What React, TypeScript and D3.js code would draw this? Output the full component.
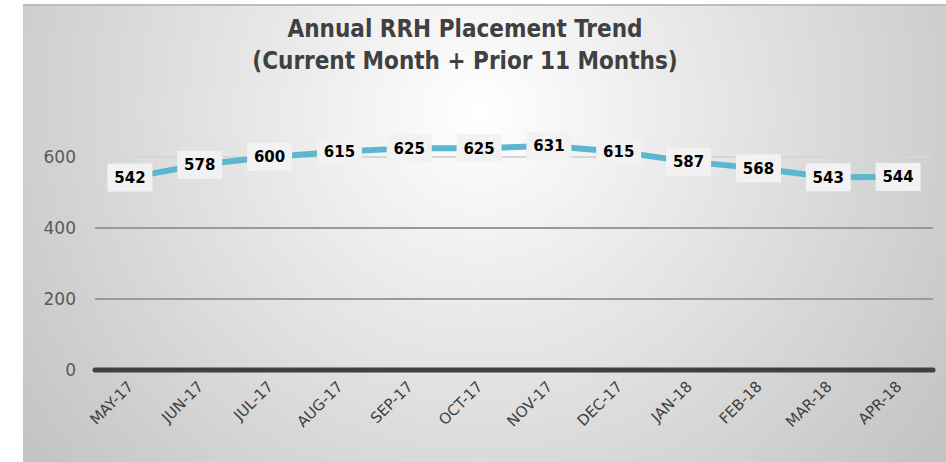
import React, { useEffect, useRef } from 'react';
import * as d3 from 'd3';

const months = ['MAY-17', 'JUN-17', 'JUL-17', 'AUG-17', 'SEP-17', 'OCT-17', 'NOV-17', 'DEC-17', 'JAN-18', 'FEB-18', 'MAR-18', 'APR-18'];
const placements = [542, 578, 600, 615, 625, 625, 631, 615, 587, 568, 543, 544];
const yTicks = [0, 200, 400, 600];
const titleLines = ['Annual RRH Placement Trend', '(Current Month + Prior 11 Months)'];

const width = 946;
const height = 462;
const margin = { top: 0, right: 13, bottom: 92, left: 95 };
const font = '"DejaVu Sans", sans-serif';

export default function App() {
    const ref = useRef<SVGSVGElement>(null);

    useEffect(() => {
        const svg = d3.select(ref.current);
        svg.selectAll('*').remove();

        const defs = svg.append('defs');
        const grad = defs
            .append('radialGradient')
            .attr('id', 'bg')
            .attr('gradientUnits', 'userSpaceOnUse')
            .attr('cx', 480)
            .attr('cy', 110)
            .attr('r', 560);
        grad.append('stop').attr('offset', '0%').attr('stop-color', '#ffffff');
        grad.append('stop').attr('offset', '100%').attr('stop-color', '#c4c4c4');

        svg.append('rect')
            .attr('x', 23)
            .attr('y', 4)
            .attr('width', width - 23)
            .attr('height', height - 4)
            .attr('fill', 'url(#bg)');
        svg.append('line')
            .attr('x1', 23)
            .attr('x2', width)
            .attr('y1', 5)
            .attr('y2', 5)
            .attr('stroke', '#bdbdbd')
            .attr('stroke-width', 2);

        const x = d3
            .scaleBand()
            .domain(months)
            .range([margin.left, width - margin.right]);
        const y = d3
            .scaleLinear()
            .domain([0, 600])
            .range([height - margin.bottom, height - margin.bottom - 213]);

        // title
        svg.append('g')
            .selectAll('text')
            .data(titleLines)
            .join('text')
            .attr('x', 465)
            .attr('y', (d, i) => 37 + i * 32)
            .attr('text-anchor', 'middle')
            .attr('font-family', '"DejaVu Sans Condensed", "DejaVu Sans", sans-serif')
            .attr('font-stretch', 'condensed')
            .attr('font-weight', 'bold')
            .attr('font-size', 24)
            .attr('fill', '#404040')
            .text((d) => d);

        // gridlines
        svg.append('g')
            .selectAll('line')
            .data(yTicks.filter((t) => t > 0))
            .join('line')
            .attr('x1', margin.left)
            .attr('x2', width - margin.right)
            .attr('y1', (d) => y(d))
            .attr('y2', (d) => y(d))
            .attr('stroke', (d) => (d === 600 ? '#d6d6d6' : '#9a9a9a'))
            .attr('stroke-width', 2);

        // y tick labels
        svg.append('g')
            .selectAll('text')
            .data(yTicks)
            .join('text')
            .attr('x', 76)
            .attr('y', (d) => y(d))
            .attr('dy', '0.36em')
            .attr('text-anchor', 'end')
            .attr('font-family', font)
            .attr('font-size', 17)
            .attr('fill', '#595959')
            .text((d) => d);

        // zero axis
        svg.append('line')
            .attr('x1', margin.left)
            .attr('x2', width - margin.right)
            .attr('y1', y(0))
            .attr('y2', y(0))
            .attr('stroke', '#404040')
            .attr('stroke-width', 5)
            .attr('stroke-linecap', 'round');

        // x labels
        svg.append('g')
            .selectAll('text')
            .data(months)
            .join('text')
            .attr('transform', (d) => `translate(${x(d)! + x.bandwidth() / 2 - 3},${y(0) + 10}) rotate(-45)`)
            .attr('text-anchor', 'end')
            .attr('dy', '0.7em')
            .attr('font-family', font)
            .attr('font-size', 15)
            .attr('fill', '#404040')
            .text((d) => d);

        const line = d3
            .line<number>()
            .x((d, i) => x(months[i])! + x.bandwidth() / 2)
            .y((d) => y(d));

        svg.append('path')
            .datum(placements)
            .attr('d', line)
            .attr('fill', 'none')
            .attr('stroke', '#5bb7cf')
            .attr('stroke-width', 6);

        const labels = svg
            .append('g')
            .selectAll('g')
            .data(placements)
            .join('g')
            .attr('transform', (d, i) => `translate(${x(months[i])! + x.bandwidth() / 2},${y(d)})`);
        labels
            .append('rect')
            .attr('x', -22.5)
            .attr('y', -14)
            .attr('width', 45)
            .attr('height', 28)
            .attr('fill', '#f2f2f2');
        labels
            .append('text')
            .attr('text-anchor', 'middle')
            .attr('dy', '0.36em')
            .attr('font-family', font)
            .attr('font-weight', 'bold')
            .attr('font-size', 15)
            .attr('fill', '#000')
            .text((d) => d);
    }, []);

    return (
        <svg
            ref={ref}
            width={width}
            height={height}
            style={{ position: 'fixed', left: 0, top: 0, background: '#fff' }}
        />
    );
}
